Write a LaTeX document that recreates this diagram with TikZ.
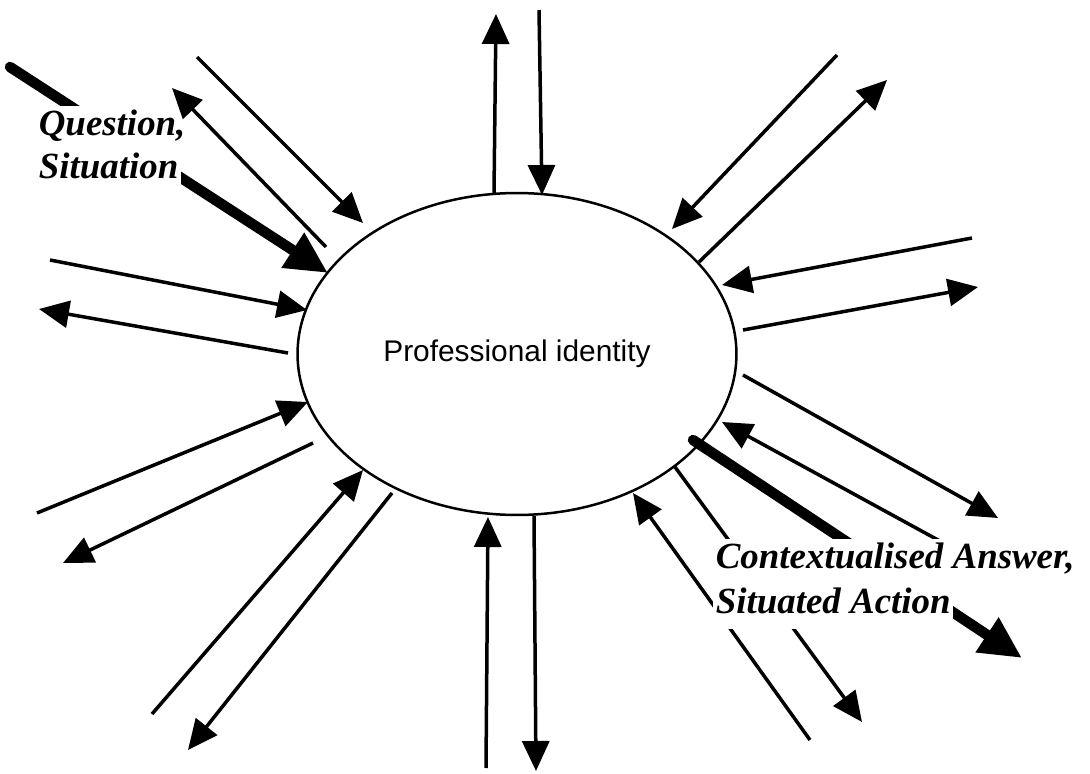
\documentclass[tikz,border=0pt]{standalone}
\usepackage{fontspec}
\usepackage{tikz}
\usetikzlibrary{shapes}
\usetikzlibrary{arrows.meta}

\newfontfamily\identfont{Liberation Sans}
\newfontfamily\handfont{Liberation Serif}

\begin{document}
\begin{tikzpicture}[x=0.02cm,y=-0.02cm,
  ray/.style={line width=0.07cm,-{Triangle[length=0.6cm,width=0.54cm]}},
  bigray/.style={line width=0.21cm,line cap=round,-{Triangle[length=0.84cm,width=0.78cm]}},
  callout/.style={fill=white,inner sep=0.05cm,text height=0.53cm,text depth=0.27cm,
    font=\handfont\bfseries\itshape\fontsize{21}{25}\selectfont}]
  \useasboundingbox (0,0) rectangle (1090,774);

  % the identity in the middle
  \node[draw,ellipse,line width=0.05cm,minimum width=8.78cm,minimum height=6.44cm,
    inner sep=0pt,font=\identfont\fontsize{17}{20}\selectfont] (pi) at (517,354)
    {Professional identity};

  % question in, answer out
  \coordinate (qs-s) at (10,67);
  \coordinate (qs-e) at (328,273);
  \draw[bigray] (qs-s) -- (qs-e);
  \coordinate (ca-s) at (693,440);
  \coordinate (ca-e) at (1022,658);
  \draw[bigray] (ca-s) -- (ca-e);

  \node[callout,anchor=base west] (qs1) at (36,135) {Question,};
  \node[callout,anchor=base west] (qs2) at (36,178) {Situation};

  % the other exchanges
  \foreach \n/\xa/\ya/\xb/\yb in {
    nw1/197/57/363/223,
    nw2/326/247/172/88,
    n1/494/193/496/14,
    n2/539/10/542/195,
    ne1/837/55/672/229,
    ne2/699/262/887/80,
    e1/972/238/722/285,
    e2/743/330/978/287,
    e3/743/375/998/518,
    e4/960/552/722/422,
    se1/675/467/862/722,
    se2/810/740/633/493,
    s1/486/768/488/517,
    s2/534/516/536/771,
    sw1/152/714/363/470,
    sw2/392/493/188/750,
    w1/50/260/307/310,
    w2/288/353/39/309,
    w3/37/513/308/402,
    w4/313/443/63/563}
  {
    \coordinate (\n-s) at (\xa,\ya);
    \coordinate (\n-e) at (\xb,\yb);
    \draw[ray] (\n-s) -- (\n-e);
  }

  \node[callout,anchor=base west] (ca1) at (713,568) {Contextualised Answer,};
  \node[callout,anchor=base west] (ca2) at (713,613) {Situated Action};
\end{tikzpicture}
\end{document}
